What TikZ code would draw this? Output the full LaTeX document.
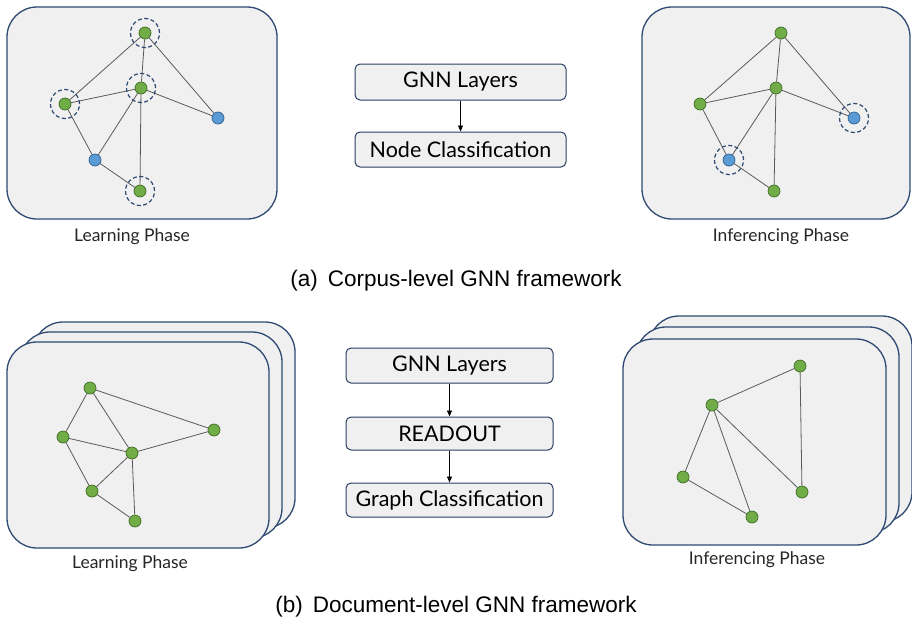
\documentclass[tikz,border=0pt]{standalone}
\usepackage{fontspec}
\setmainfont{Lato}
\newfontfamily\capfont{Liberation Sans}
\usetikzlibrary{arrows.meta}
\definecolor{navy}{HTML}{2F4A73}
\definecolor{panel}{HTML}{F0F0F0}
\definecolor{gfill}{HTML}{70AD47}
\definecolor{gline}{HTML}{3E6B24}
\definecolor{bfill}{HTML}{5B9BD5}
\definecolor{bline}{HTML}{2E5F8E}
\definecolor{edgec}{HTML}{5A5A5A}
\tikzset{
  panelbox/.style={draw=navy, fill=panel, line width=1.3pt, rounded corners=30pt},
  gn/.style={circle, draw=gline, fill=gfill, line width=0.7pt, minimum size=12pt, inner sep=0pt},
  bn/.style={circle, draw=bline, fill=bfill, line width=0.7pt, minimum size=12pt, inner sep=0pt},
  ring/.style={circle, draw=navy, dash pattern=on 4pt off 2.5pt, line width=1.2pt, minimum size=29pt, inner sep=0pt},
  ed/.style={draw=edgec, line width=0.8pt},
  stepbox/.style={draw=navy!85!black, fill=panel, line width=1pt, rounded corners=5pt, inner sep=0pt, font=\fontsize{21.5}{24}\selectfont},
  flow/.style={-{Triangle[length=6pt,width=5pt]}, line width=0.7pt, black},
  phase/.style={font=\fontsize{17.5}{20}\selectfont, text=black!85},
  captxt/.style={font=\capfont\fontsize{22.5}{26}\selectfont}
}
\begin{document}
\begin{tikzpicture}[x=1pt,y=-1pt]
\useasboundingbox[fill=white] (0,0) rectangle (912,621);
% ---------- (a) left
\draw[panelbox] (7,7) rectangle (277,219);
\node[gn] (a1) at (145,33) {};
\node[gn] (a2) at (141,88) {};
\node[gn] (a3) at (65,104) {};
\node[bn] (a4) at (218,118) {};
\node[bn] (a5) at (95,160) {};
\node[gn] (a6) at (140,191) {};
\draw[ed] (a1)--(a3) (a1)--(a2) (a1)--(a4) (a3)--(a2) (a2)--(a4) (a3)--(a5) (a2)--(a5) (a2)--(a6) (a5)--(a6);
\node[ring] (r1) at (a1) {};
\node[ring] (r2) at (a2) {};
\node[ring] (r3) at (a3) {};
\node[ring] (r6) at (a6) {};
\node[phase] (la) at (132,237) {Learning Phase};
% ---------- (a) middle
\node[stepbox, minimum width=211pt, minimum height=36pt] (s1) at (460.5,82) {GNN Layers};
\node[stepbox, minimum width=211pt, minimum height=35pt] (s2) at (460.5,149.5) {Node Classification};
\draw[flow] (s1) -- (s2);
% ---------- (a) right
\draw[panelbox] (642,7) rectangle (910,219);
\node[gn] (c1) at (781,33) {};
\node[gn] (c2) at (776,88) {};
\node[gn] (c3) at (700,104) {};
\node[bn] (c4) at (854,118) {};
\node[bn] (c5) at (729,160) {};
\node[gn] (c6) at (774,191) {};
\draw[ed] (c1)--(c3) (c1)--(c2) (c1)--(c4) (c3)--(c2) (c2)--(c4) (c3)--(c5) (c2)--(c5) (c2)--(c6) (c5)--(c6);
\node[ring] (q4) at (c4) {};
\node[ring] (q5) at (c5) {};
\node[phase] (li) at (781,237) {Inferencing Phase};
\node[captxt] (capa) at (456,281) {(a)\, Corpus-level GNN framework};
% ---------- (b) left
\draw[panelbox] (33,322) rectangle (295,528);
\draw[panelbox] (20,332) rectangle (282,538);
\draw[panelbox] (7,342) rectangle (269,548);
\node[gn] (d1) at (90,388) {};
\node[gn] (d2) at (63,437) {};
\node[gn] (d3) at (132,453) {};
\node[gn] (d4) at (214,430) {};
\node[gn] (d5) at (92,491) {};
\node[gn] (d6) at (135,521) {};
\draw[ed] (d1)--(d2) (d1)--(d3) (d1)--(d4) (d2)--(d3) (d2)--(d5) (d3)--(d4) (d3)--(d5) (d3)--(d6) (d5)--(d6);
\node[phase] (lb) at (130,564) {Learning Phase};
% ---------- (b) middle
\node[stepbox, minimum width=207pt, minimum height=35pt] (t1) at (449.5,365.5) {GNN Layers};
\node[stepbox, minimum width=207pt, minimum height=33pt] (t2) at (449.5,433.5) {READOUT};
\node[stepbox, minimum width=207pt, minimum height=34pt] (t3) at (449.5,500) {Graph Classification};
\draw[flow] (t1) -- (t2);
\draw[flow] (t2) -- (t3);
% ---------- (b) right
\draw[panelbox] (649,316) rectangle (912,522);
\draw[panelbox] (636,327) rectangle (899,533);
\draw[panelbox] (623,339) rectangle (886,545);
\node[gn] (e1) at (800,366) {};
\node[gn] (e2) at (712,405) {};
\node[gn] (e3) at (683,477) {};
\node[gn] (e4) at (802,492) {};
\node[gn] (e5) at (752,517) {};
\draw[ed] (e1)--(e2) (e1)--(e4) (e2)--(e3) (e2)--(e5) (e2)--(e4) (e3)--(e5);
\node[phase] (lj) at (757,560) {Inferencing Phase};
\node[captxt] (capb) at (456,607) {(b)\, Document-level GNN framework};
\end{tikzpicture}
\end{document}
